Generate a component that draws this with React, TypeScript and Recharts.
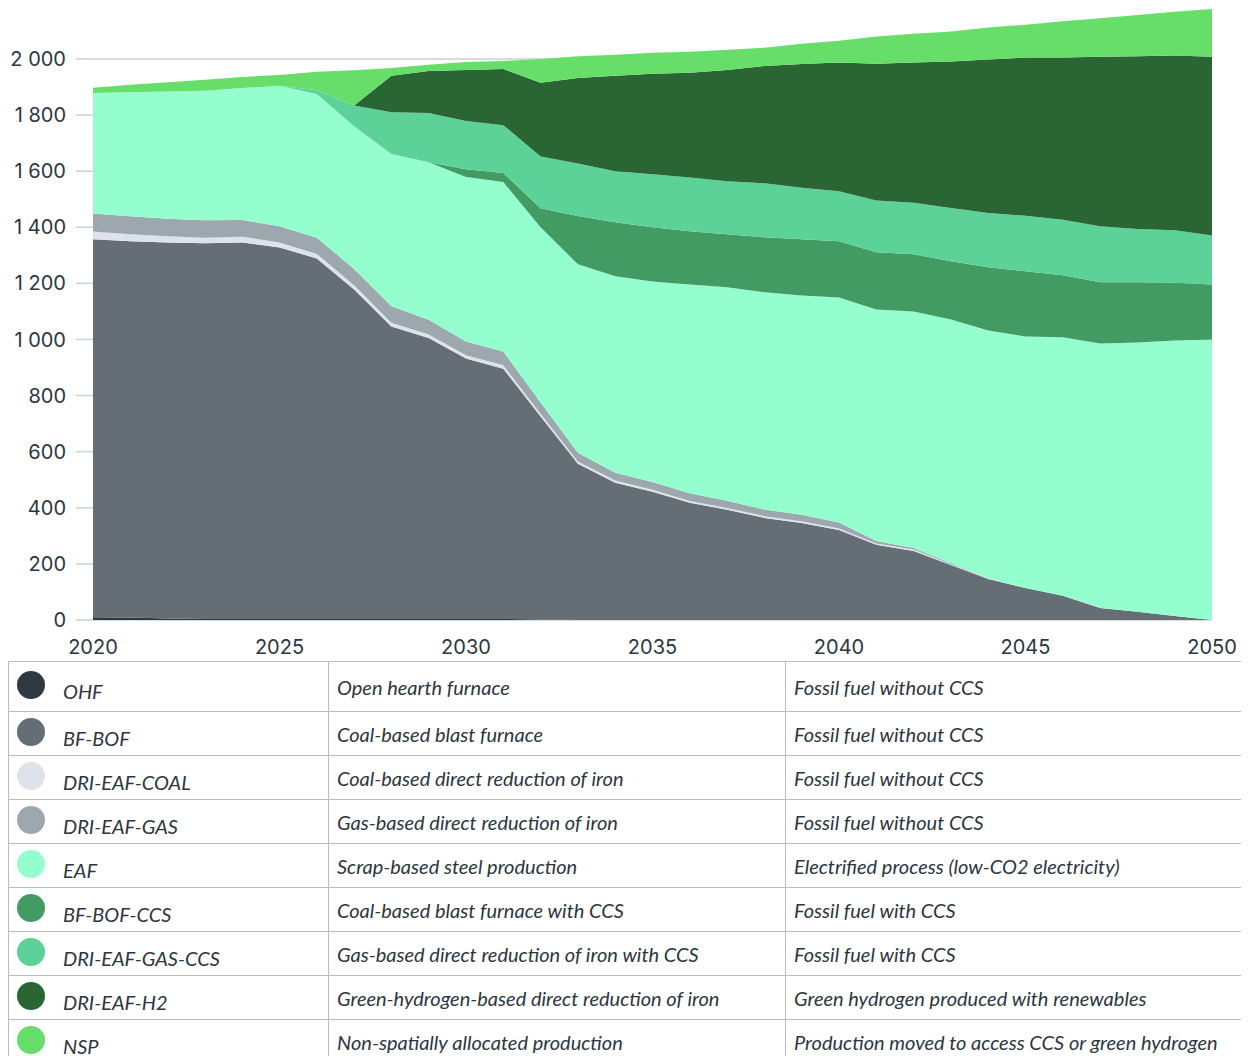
import React from 'react'
import { AreaChart, Area, XAxis, YAxis, CartesianGrid } from 'recharts'

const years = [
  2020, 2021, 2022, 2023, 2024, 2025, 2026, 2027, 2028, 2029, 2030, 2031, 2032, 2033, 2034, 2035,
  2036, 2037, 2038, 2039, 2040, 2041, 2042, 2043, 2044, 2045, 2046, 2047, 2048, 2049, 2050,
]

const ohf = [10, 9, 5, 4, 4, 4, 4, 4, 4, 4, 4, 4, 2, 0, 0, 0, 0, 0, 0, 0, 0, 0, 0, 0, 0, 0, 0, 0, 0, 0, 0]
const bfBof = [
  1347, 1341, 1341, 1339, 1342, 1324, 1285, 1174, 1042, 1001, 928, 892, 723, 557, 489, 457, 418, 393,
  364, 346, 321, 268, 246, 196, 146, 114, 86, 43, 29, 14, 0,
]
const driCoal = [28, 25, 22, 20, 20, 18, 16, 15, 14, 13, 12, 12, 10, 8, 8, 7, 6, 6, 6, 6, 5, 5, 5, 3, 2, 0, 0, 0, 0, 0, 0]
const driGas = [64, 64, 62, 62, 60, 58, 58, 58, 58, 52, 49, 49, 40, 31, 28, 28, 28, 26, 24, 23, 22, 9, 6, 3, 1, 0, 0, 0, 0, 0, 0]
const eaf = [
  430, 442, 454, 462, 470, 500, 512, 509, 543, 562, 586, 604, 625, 672, 700, 715, 744, 761, 774, 782,
  802, 825, 843, 869, 883, 897, 922, 943, 960, 982, 1000,
]
const bfBofCcs = [
  0, 0, 0, 0, 0, 0, 0, 0, 0, 0, 28, 32, 68, 172, 193, 193, 190, 189, 196, 200, 200, 204, 204, 208, 225,
  232, 221, 218, 215, 206, 196,
]
const driGasCcs = [
  0, 0, 0, 0, 0, 0, 13, 74, 149, 175, 172, 171, 184, 187, 182, 189, 191, 189, 193, 184, 178, 184, 183,
  190, 194, 198, 198, 200, 190, 187, 175,
]
const driH2 = [
  0, 0, 0, 0, 0, 0, 0, 0, 130, 150, 182, 200, 263, 305, 340, 358, 374, 397, 418, 441, 459, 488, 500,
  522, 547, 564, 578, 604, 616, 623, 637,
]
const nsp = [
  18, 27, 33, 39, 40, 39, 66, 126, 28, 22, 28, 29, 85, 78, 75, 75, 75, 72, 65, 72, 78, 97, 103, 107,
  114, 117, 129, 137, 147, 156, 170,
]

const xTicks = [2020, 2025, 2030, 2035, 2040, 2045, 2050]
const yTicks = [0, 200, 400, 600, 800, 1000, 1200, 1400, 1600, 1800, 2000]

const series = [
  { key: 'OHF', values: ohf, color: '#2f3942', desc: 'Open hearth furnace', kind: 'Fossil fuel without CCS' },
  { key: 'BF-BOF', values: bfBof, color: '#646e74', desc: 'Coal-based blast furnace', kind: 'Fossil fuel without CCS' },
  { key: 'DRI-EAF-COAL', values: driCoal, color: '#dee2ea', desc: 'Coal-based direct reduction of iron', kind: 'Fossil fuel without CCS' },
  { key: 'DRI-EAF-GAS', values: driGas, color: '#9ca8ae', desc: 'Gas-based direct reduction of iron', kind: 'Fossil fuel without CCS' },
  { key: 'EAF', values: eaf, color: '#94fecf', desc: 'Scrap-based steel production', kind: 'Electrified process (low-CO2 electricity)' },
  { key: 'BF-BOF-CCS', values: bfBofCcs, color: '#439b64', desc: 'Coal-based blast furnace with CCS', kind: 'Fossil fuel with CCS' },
  { key: 'DRI-EAF-GAS-CCS', values: driGasCcs, color: '#5dd298', desc: 'Gas-based direct reduction of iron with CCS', kind: 'Fossil fuel with CCS' },
  { key: 'DRI-EAF-H2', values: driH2, color: '#2a6634', desc: 'Green-hydrogen-based direct reduction of iron', kind: 'Green hydrogen produced with renewables' },
  { key: 'NSP', values: nsp, color: '#67de69', desc: 'Non-spatially allocated production', kind: 'Production moved to access CCS or green hydrogen' },
]

const data = years.map((year, i) => {
  const row: Record<string, number> = { year }
  series.forEach((s) => (row[s.key] = s.values[i]))
  return row
})

const maxTotal = Math.max(...years.map((_, i) => series.reduce((acc, s) => acc + s.values[i], 0)))

const gridColor = '#c7d2da'
const textColor = '#2d3640'
const axisFont = { fill: textColor, fontSize: 20, fontFamily: 'Inter, sans-serif' }

const fmt = (v: number) => String(v).replace(/\B(?=(\d{3})+(?!\d))/g, ' ')

const cell: React.CSSProperties = {
  border: '1px solid #bcbcbc',
  padding: '0 8px',
  verticalAlign: 'middle',
}

export default function App() {
  return (
    <div style={{ width: 1233, fontFamily: 'Lato, sans-serif', color: textColor }}>
      <AreaChart width={1233} height={653} data={data} margin={{ top: 1, right: 0, bottom: 0, left: 0 }}>
        <CartesianGrid vertical={false} stroke={gridColor} strokeWidth={1.5} syncWithTicks />
        <XAxis
          dataKey="year"
          type="number"
          domain={[2020, 2050]}
          ticks={xTicks}
          tickLine={false}
          axisLine={false}
          tickSize={6}
          tickMargin={14}
          height={41}
          tick={axisFont}
        />
        <YAxis
          domain={[0, maxTotal]}
          ticks={yTicks}
          width={85}
          tickSize={17}
          tickMargin={10}
          tickLine={{ stroke: gridColor, strokeWidth: 1.5 }}
          axisLine={false}
          tick={axisFont}
          tickFormatter={fmt}
        />
        <YAxis
          yAxisId="r"
          orientation="right"
          domain={[0, maxTotal]}
          ticks={yTicks}
          width={29}
          tickSize={18}
          tickLine={{ stroke: gridColor, strokeWidth: 1.5 }}
          axisLine={false}
          tickFormatter={() => ''}
        />
        {series.map((s) => (
          <Area
            key={s.key}
            type="linear"
            dataKey={s.key}
            stackId="1"
            stroke="none"
            fill={s.color}
            fillOpacity={1}
            isAnimationActive={false}
          />
        ))}
      </AreaChart>
      <table style={{ width: 1233, borderCollapse: 'collapse', tableLayout: 'fixed', fontStyle: 'italic', fontSize: 20 }}>
        <colgroup>
          <col style={{ width: 320 }} />
          <col style={{ width: 457 }} />
          <col style={{ width: 456 }} />
        </colgroup>
        <tbody>
          {series.map((s, i) => (
            <tr key={s.key} style={{ height: i === 0 ? 50 : 44 }}>
              <td style={cell}>
                <span
                  style={{
                    display: 'inline-block',
                    width: 28,
                    height: 28,
                    borderRadius: '50%',
                    background: s.color,
                    marginRight: 18,
                    verticalAlign: 'baseline',
                  }}
                />
                {s.key}
              </td>
              <td style={cell}>{s.desc}</td>
              <td style={cell}>{s.kind}</td>
            </tr>
          ))}
        </tbody>
      </table>
    </div>
  )
}
